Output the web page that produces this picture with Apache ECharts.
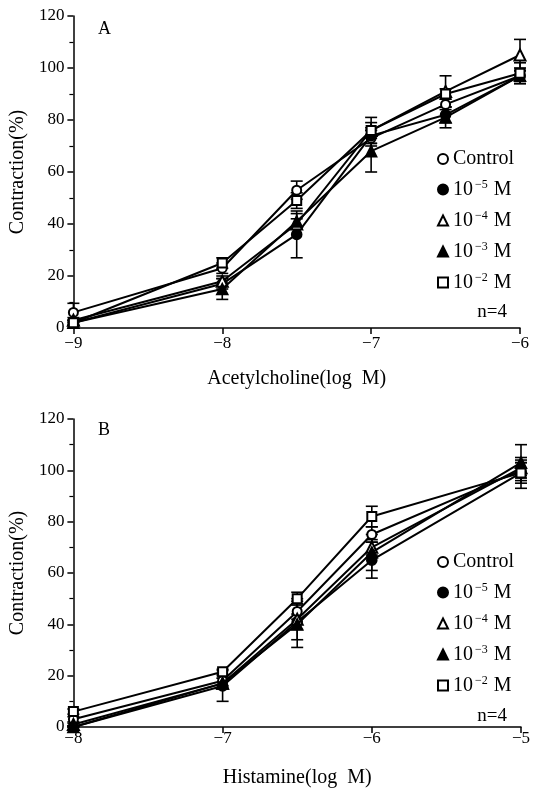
<!DOCTYPE html>
<html>
<head>
<meta charset="utf-8">
<script src="https://cdn.jsdelivr.net/npm/echarts@6/dist/echarts.min.js"></script>
<style>html,body{margin:0;padding:0;background:#fff}#c{width:534px;height:789px}</style>
</head>
<body>
<div id="c"></div>
<script>
// ---- Data: panel A (Acetylcholine) ----
const xA = [-9, -8, -7.5, -7, -6.5, -6];
const aControl = [6, 23, 53, 73, 86, 97];
const aE5 = [2, 17, 36, 74, 82, 97];
const aE4 = [3, 18, 40, 76, 91, 105];
const aE3 = [2, 15, 41, 68, 81, 97];
const aE2 = [2, 25, 49, 76, 90, 98];
const aControlErr = [3.5, 2, 3.5, 3, 2, 2];
const aE5Err = [1, 2, 9, 3, 3, 2];
const aE4Err = [1, 2, 2, 5, 6, 6];
const aE3Err = [1, 4, 3, 8, 4, 3];
const aE2Err = [1, 2, 3, 3, 2, 4];
// ---- Data: panel B (Histamine) ----
const xB = [-8, -7, -6.5, -6, -5];
const bControl = [3, 18, 45, 75, 100];
const bE5 = [0, 16, 41, 65, 99];
const bE4 = [1, 17, 42, 70, 101];
const bE3 = [0, 17, 40, 68, 103];
const bE2 = [6, 21.5, 50, 82, 99];
const bControlErr = [1, 2, 3, 3, 3];
const bE5Err = [0.5, 6, 3, 7, 4];
const bE4Err = [0.5, 2, 8, 3, 3];
const bE3Err = [0.5, 2, 9, 7, 7];
const bE2Err = [1, 1, 2.5, 4, 6];
// ---- Labels ----
const seriesNames = ['Control', '10-5', '10-4', '10-3', '10-2'];
const supText = {'10-5': '−5', '10-4': '−4', '10-3': '−3', '10-2': '−2'};
const symbols = ['emptyCircle', 'circle', 'emptyTriangle', 'triangle', 'emptyRect'];
const symbolSizes = [9, 10, 11, 11, 9];
const yTicks = [0, 20, 40, 60, 80, 100, 120];

const FONT = 'Liberation Serif';
const panels = [
  {x: xA, vals: [aControl, aE5, aE4, aE3, aE2], errs: [aControlErr, aE5Err, aE4Err, aE3Err, aE2Err]},
  {x: xB, vals: [bControl, bE5, bE4, bE3, bE2], errs: [bControlErr, bE5Err, bE4Err, bE3Err, bE2Err]}
];

function errRender(params, api) {
  const x = api.value(0), lo = api.value(1), hi = api.value(2);
  const t = api.coord([x, hi]);
  const b = api.coord([x, lo]);
  const hw = 6;
  const st = {stroke: '#000', lineWidth: 1.6};
  return {type: 'group', children: [
    {type: 'line', shape: {x1: t[0], y1: t[1], x2: b[0], y2: b[1]}, style: st},
    {type: 'line', shape: {x1: t[0] - hw, y1: t[1], x2: t[0] + hw, y2: t[1]}, style: st},
    {type: 'line', shape: {x1: b[0] - hw, y1: b[1], x2: b[0] + hw, y2: b[1]}, style: st}
  ]};
}

const series = [];
panels.forEach((p, pi) => {
  p.vals.forEach((v, si) => {
    series.push({
      type: 'custom', xAxisIndex: pi, yAxisIndex: pi, silent: true, z: 2,
      renderItem: errRender, encode: {x: 0, y: [1, 2]},
      data: p.x.map((x, i) => [x, Math.max(0, v[i] - p.errs[si][i]), v[i] + p.errs[si][i]])
    });
  });
  p.vals.forEach((v, si) => {
    series.push({
      type: 'line', name: seriesNames[si], xAxisIndex: pi, yAxisIndex: pi, z: 3 + si,
      symbol: symbols[si], symbolSize: symbolSizes[si], showAllSymbol: true,
      lineStyle: {color: '#000', width: 2},
      itemStyle: {color: '#000', borderColor: '#000', borderWidth: 1.6},
      data: p.x.map((x, i) => [x, v[i]]), silent: true, animation: false
    });
  });
});

function mkX(idx, min, max, name, margin) {
  return {
    type: 'value', gridIndex: idx, min: min, max: max, interval: 1,
    name: name, nameLocation: 'middle', nameGap: 41,
    nameTextStyle: {fontFamily: FONT, fontSize: 20, color: '#000'},
    axisLine: {lineStyle: {color: '#000', width: 1.5}},
    axisTick: {length: 6, lineStyle: {color: '#000', width: 1.5}},
    axisLabel: {margin: margin, fontFamily: FONT, fontSize: 17, color: '#000',
      formatter: v => '−' + Math.abs(v)},
    splitLine: {show: false}
  };
}
function mkY(idx) {
  return {
    type: 'value', gridIndex: idx, min: yTicks[0], max: yTicks[yTicks.length - 1], interval: 20,
    name: 'Contraction(%)', nameLocation: 'middle', nameGap: 39, nameRotate: 90,
    nameTextStyle: {fontFamily: FONT, fontSize: 20, color: '#000'},
    axisLine: {show: true, lineStyle: {color: '#000', width: 1.5}},
    axisTick: {show: true, length: 6, lineStyle: {color: '#000', width: 1.5}},
    minorTick: {show: true, splitNumber: 2, length: 4, lineStyle: {color: '#000', width: 1.2}},
    axisLabel: {margin: 9, fontFamily: FONT, fontSize: 17, color: '#000'},
    splitLine: {show: false}, minorSplitLine: {show: false}
  };
}
function mkLegend(top) {
  return {
    orient: 'vertical', left: 437, top: top, padding: 0, itemWidth: 10, itemHeight: 10, itemGap: 10,
    selectedMode: false,
    data: seriesNames.map((n, i) => ({name: n, icon: symbols[i]})),
    formatter: n => n === 'Control' ? 'Control' : '10{s|' + supText[n] + '} M',
    textStyle: {fontFamily: FONT, fontSize: 20, color: '#000', lineHeight: 20,
      rich: {s: {fontFamily: FONT, fontSize: 12, color: '#000', padding: [0, 1, 9, 2], lineHeight: 20}}}
  };
}

const chart = echarts.init(document.getElementById('c'), null, {renderer: 'canvas'});
chart.setOption({
  animation: false,
  backgroundColor: '#fff',
  title: [
    {text: 'A', left: 98, top: 20, padding: 0, textStyle: {fontFamily: FONT, fontSize: 18, fontWeight: 'normal', color: '#000'}},
    {text: 'B', left: 98, top: 421, padding: 0, textStyle: {fontFamily: FONT, fontSize: 18, fontWeight: 'normal', color: '#000'}},
    {text: 'n=4', right: 27, top: 303, padding: 0, textStyle: {fontFamily: FONT, fontSize: 19, fontWeight: 'normal', color: '#000'}},
    {text: 'n=4', right: 27, top: 707, padding: 0, textStyle: {fontFamily: FONT, fontSize: 19, fontWeight: 'normal', color: '#000'}}
  ],
  grid: [
    {left: 73, top: 16, width: 447, height: 312},
    {left: 73, top: 419, width: 448, height: 310}
  ],
  xAxis: [mkX(0, -9, -6, 'Acetylcholine(log  M)', 7), mkX(1, -8, -5, 'Histamine(log  M)', 3)],
  yAxis: [mkY(0), mkY(1)],
  legend: [mkLegend(149), mkLegend(552)],
  series: series
});
</script>
</body>
</html>
